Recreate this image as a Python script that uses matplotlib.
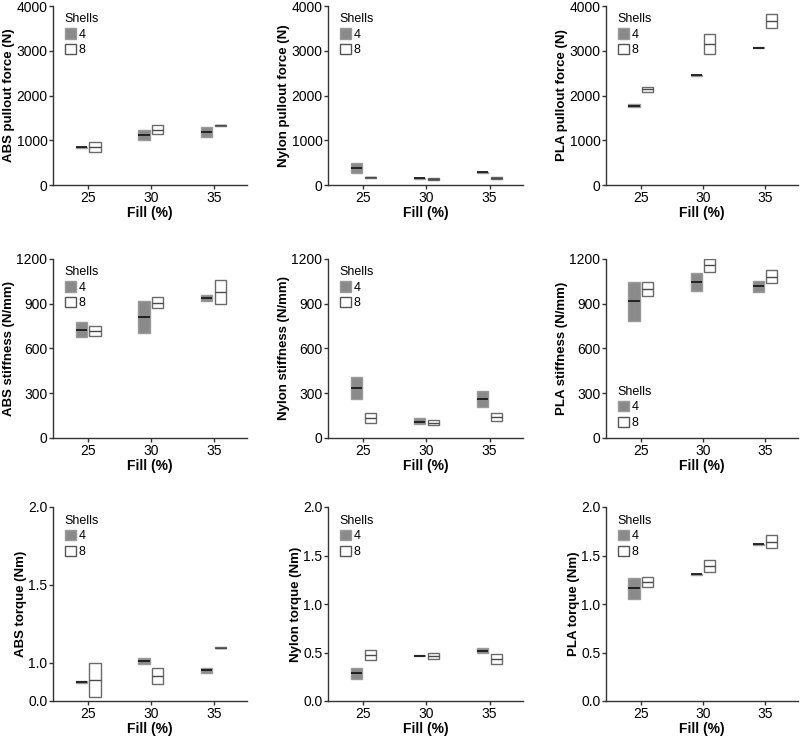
import numpy as np
import matplotlib
matplotlib.use("Agg")
import matplotlib.pyplot as plt
from matplotlib.patches import Patch

plt.rcParams['font.family'] = ['Liberation Sans', 'DejaVu Sans']

# -----------------------------------------------------
# Data: (min, median, max) at fill 25, 30, 35 %
# -----------------------------------------------------
fill = [25, 30, 35]

abs_pull_4 = [(835, 849, 860), (1006, 1117, 1236), (1073, 1184, 1296)]
abs_pull_8 = [(730, 857, 968), (1132, 1229, 1333), (1322, 1335, 1348)]
nyl_pull_4 = [(262, 374, 486), (140, 150, 160), (274, 284, 294)]
nyl_pull_8 = [(162, 172, 182), (120, 135, 150), (140, 157, 172)]
pla_pull_4 = [(1736, 1773, 1803), (2438, 2451, 2464), (3056, 3069, 3082)]
pla_pull_8 = [(2086, 2145, 2197), (2920, 3158, 3382), (3508, 3672, 3821)]

abs_stiff_4 = [(677, 726, 775), (704, 811, 921), (918, 939, 959)]
abs_stiff_8 = [(682, 715, 751), (869, 907, 945), (896, 981, 1061)]
nyl_stiff_4 = [(264, 335, 407), (92, 110, 132), (210, 261, 313)]
nyl_stiff_8 = [(101, 134, 168), (85, 103, 118), (116, 143, 170)]
pla_stiff_4 = [(782, 916, 1046), (985, 1046, 1104), (981, 1017, 1052)]
pla_stiff_8 = [(954, 999, 1046), (1113, 1158, 1198), (1039, 1082, 1124)]

abs_torq_4 = [(0.873, 0.878, 0.884), (0.991, 1.011, 1.032), (0.936, 0.953, 0.968)]
abs_torq_8 = [(0.778, 0.889, 1.0), (0.865, 0.917, 0.968), (1.093, 1.098, 1.103)]
nyl_torq_4 = [(0.224, 0.286, 0.344), (0.460, 0.465, 0.470), (0.496, 0.520, 0.547)]
nyl_torq_8 = [(0.423, 0.475, 0.527), (0.434, 0.465, 0.492), (0.386, 0.434, 0.485)]
pla_torq_4 = [(1.053, 1.160, 1.263), (1.300, 1.305, 1.310), (1.613, 1.618, 1.623)]
pla_torq_8 = [(1.177, 1.225, 1.274), (1.329, 1.391, 1.456), (1.580, 1.642, 1.707)]

panels = [
    ("ABS pullout force (N)", abs_pull_4, abs_pull_8),
    ("Nylon pullout force (N)", nyl_pull_4, nyl_pull_8),
    ("PLA pullout force (N)", pla_pull_4, pla_pull_8),
    ("ABS stiffness (N/mm)", abs_stiff_4, abs_stiff_8),
    ("Nylon stiffness (N/mm)", nyl_stiff_4, nyl_stiff_8),
    ("PLA stiffness (N/mm)", pla_stiff_4, pla_stiff_8),
    ("ABS torque (Nm)", abs_torq_4, abs_torq_8),
    ("Nylon torque (Nm)", nyl_torq_4, nyl_torq_8),
    ("PLA torque (Nm)", pla_torq_4, pla_torq_8),
]

# axes geometry (figure pixels)
col_left = [53, 328, 606]
col_width = [194, 195, 192]
row_top = [6, 259, 507]
row_bottom = [185, 438, 701]

W, H = 800, 737
fig = plt.figure(figsize=(W / 100, H / 100), dpi=100)

GRAY = "#8a8a8a"
offset = 0.11
width = 0.18


def draw_boxes(ax, xs, stats, face, edge, med_color, med_lw):
    lo = np.array([s[0] for s in stats])
    med = np.array([s[1] for s in stats])
    hi = np.array([s[2] for s in stats])
    ax.bar(xs, hi - lo, bottom=lo, width=width, color=face,
           edgecolor=edge, linewidth=1.0, zorder=2)
    ax.hlines(med, xs - width / 2, xs + width / 2, color=med_color,
              linewidth=med_lw, zorder=3)


for i, (ylabel, s4, s8) in enumerate(panels):
    r, c = divmod(i, 3)
    left = col_left[c] / W
    bottom = 1 - row_bottom[r] / H
    ax = fig.add_axes([left, bottom, col_width[c] / W,
                       (row_bottom[r] - row_top[r]) / H])
    x = np.arange(len(fill))
    draw_boxes(ax, x - offset, s4, GRAY, "#9a9a9a", "#1a1a1a", 1.3)
    draw_boxes(ax, x + offset, s8, "white", "#6a6a6a", "#4a4a4a", 1.0)

    ax.set_xlim(-0.56, 2.53)
    ax.set_xticks(x)
    ax.set_xticklabels([str(f) for f in fill])
    ax.set_xlabel("Fill (%)", fontweight="bold", fontsize=10, labelpad=1)
    ax.set_ylabel(ylabel, fontweight="bold", fontsize=9.5, labelpad=1)

    if r == 0:
        ax.set_ylim(0, 4000)
        ax.set_yticks([0, 1000, 2000, 3000, 4000])
    elif r == 1:
        ax.set_ylim(0, 1200)
        ax.set_yticks([0, 300, 600, 900, 1200])
    else:
        if c == 0:
            # broken axis in the original: bottom tick is labelled 0.0
            ax.set_ylim(0.755, 2.0)
            ax.set_yticks([0.755, 1.0, 1.5, 2.0])
            ax.set_yticklabels(["0.0", "1.0", "1.5", "2.0"])
        else:
            ax.set_ylim(0, 2.0)
            ax.set_yticks([0, 0.5, 1.0, 1.5, 2.0])
            ax.set_yticklabels(["0.0", "0.5", "1.0", "1.5", "2.0"])

    for side in ("top", "right"):
        ax.spines[side].set_visible(False)
    for side in ("left", "bottom"):
        ax.spines[side].set_linewidth(1.0)
        ax.spines[side].set_color("#333333")
    ax.tick_params(direction="out", length=3, width=1.0, labelsize=10,
                   pad=1, color="#333333")

    handles = [Patch(facecolor=GRAY, edgecolor="#9a9a9a", label="4"),
               Patch(facecolor="white", edgecolor="#555555", label="8")]
    if i == 5:
        loc, anchor = "lower left", (0.06, 0.05)
    else:
        loc, anchor = "upper left", (0.06, 0.96)
    leg = ax.legend(handles=handles, title="Shells", loc=loc,
                    bbox_to_anchor=anchor, frameon=False, fontsize=9,
                    title_fontsize=9, handlelength=0.9, handleheight=0.9,
                    handletextpad=0.2, labelspacing=0.25, borderpad=0.0,
                    borderaxespad=0.0)
    leg._legend_box.align = "left"

fig.savefig("out.png", dpi=100)
